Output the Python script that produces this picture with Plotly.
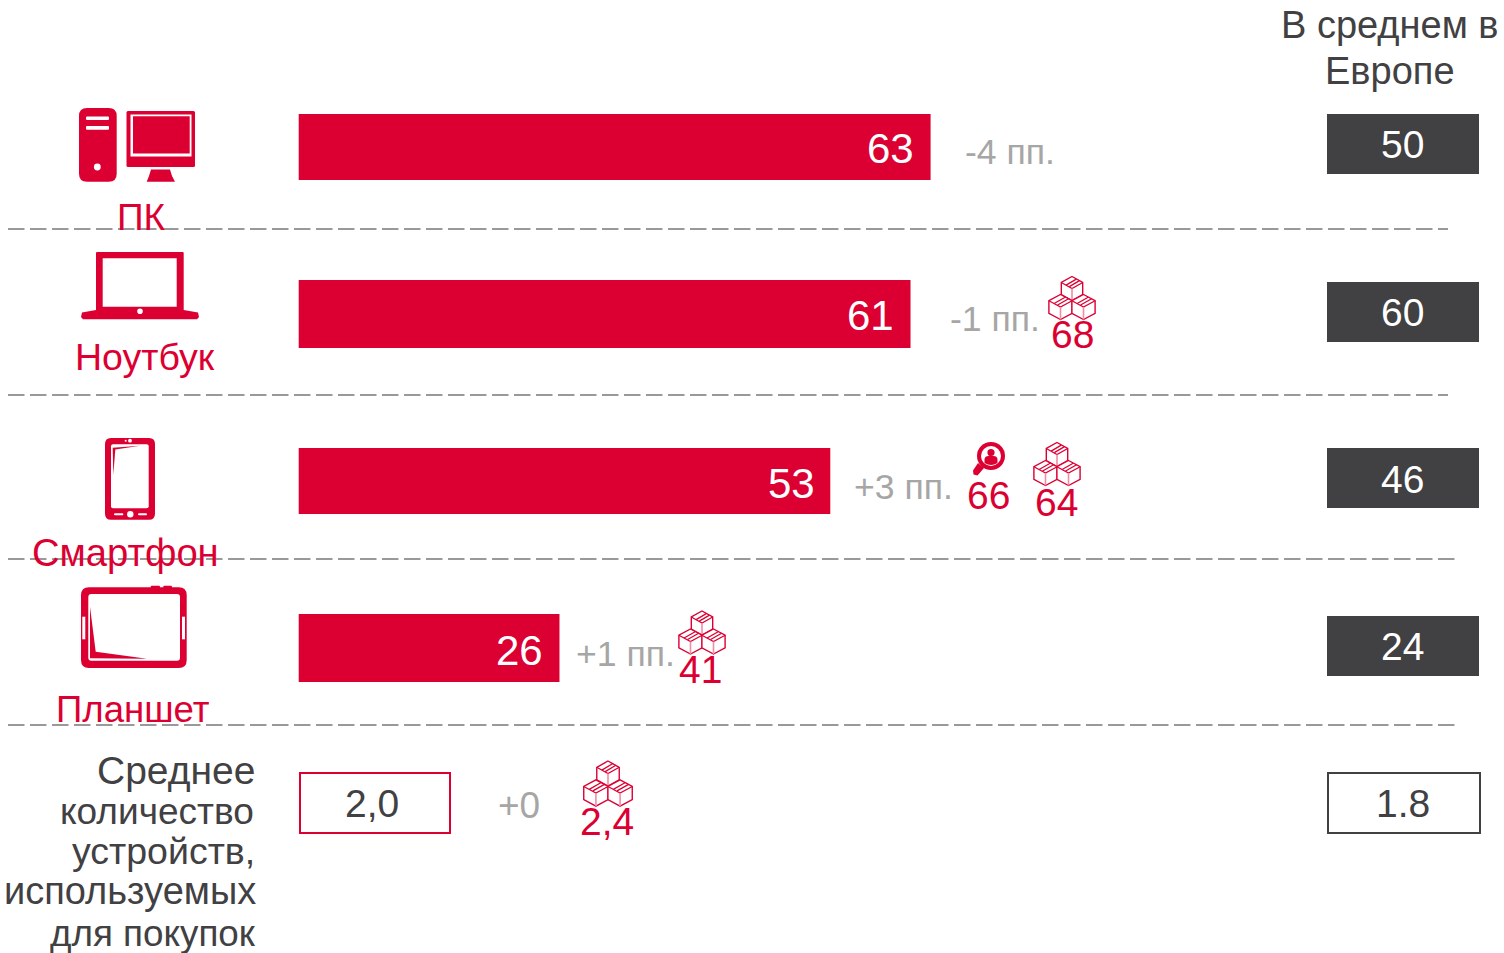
import plotly.graph_objects as go

# ---- data ----
devices = ["ПК", "Ноутбук", "Смартфон", "Планшет"]
shares = [63, 61, 53, 26]
changes = ["-4 пп.", "-1 пп.", "+3 пп.", "+1 пп."]
europe = ["50", "60", "46", "24"]
avg_devices = "2,0"
avg_change = "+0"
avg_europe = "1.8"
avg_caption = ["Среднее", "количество", "устройств,", "используемых", "для покупок"]
europe_caption = ["В среднем в", "Европе"]
box_values = ["68", "64", "41", "2,4"]
search_value = "66"

# ---- palette and geometry ----
RED = "#DC0032"
DARK = "#414042"
GREY = "#A6A6A6"
TEXT = "#414042"
FONT = "Liberation Sans, Arial, sans-serif"
W, H = 1504, 953
PX_PER_UNIT = 10.03
ZERO_PX = 298.7

bar_tops = [114, 280, 448, 614]
bar_bottoms = [180, 348, 514, 682]
euro_tops = [114, 282, 448, 616]

shapes, notes = [], []


def label(text, x, y, size=38, color=TEXT, anchor="center"):
    notes.append(dict(text=text, x=x, y=y, xref="x2", yref="y", xanchor=anchor, yanchor="middle",
                      showarrow=False, borderpad=0, font=dict(family=FONT, size=size, color=color)))


def draw(path, fill=RED, line=None, width=0):
    shapes.append(dict(type="path", path=path, xref="x2", yref="y", fillcolor=fill,
                       line=dict(color=line or "rgba(0,0,0,0)", width=width), layer="above"))


def stroke(path, color=RED, width=1.3):
    shapes.append(dict(type="path", path=path, xref="x2", yref="y", fillcolor="rgba(0,0,0,0)",
                       line=dict(color=color, width=width), layer="above"))


def rrect(x0, y0, x1, y1, r):
    return (f"M{x0 + r},{y0} L{x1 - r},{y0} Q{x1},{y0} {x1},{y0 + r} L{x1},{y1 - r} Q{x1},{y1} {x1 - r},{y1} "
            f"L{x0 + r},{y1} Q{x0},{y1} {x0},{y1 - r} L{x0},{y0 + r} Q{x0},{y0} {x0 + r},{y0} Z")


def poly(*pts):
    return "M" + " L".join(f"{x},{y}" for x, y in pts) + " Z"


def circle(cx, cy, r, fill=RED):
    shapes.append(dict(type="circle", x0=cx - r, x1=cx + r, y0=cy - r, y1=cy + r, xref="x2", yref="y",
                       fillcolor=fill, line=dict(width=0), layer="above"))


def pc_icon():
    draw(rrect(79, 108, 116.7, 181.7, 8))
    draw(rrect(86, 116.5, 109, 120, 1), "white")
    draw(rrect(86, 126, 109, 129.7, 1), "white")
    circle(97.3, 167, 3.4, "white")
    draw(rrect(126.5, 111, 195, 167, 1.5))
    draw(poly((130.5, 114.5), (191.5, 114.5), (191.5, 156.5), (130.5, 156.5)), "white")
    draw(poly((133, 116.3), (189.7, 116.3), (189.7, 153.5), (133, 153.5)))
    draw(poly((151, 169.5), (170, 169.5), (172, 176), (175, 181.7), (146.7, 181.7), (149, 176)))


def laptop_icon():
    draw(rrect(96, 252, 183.7, 312, 1))
    draw(poly((102.7, 258.3), (176.7, 258.3), (176.7, 306.7), (102.7, 306.7)), "white")
    draw(poly((96, 310), (183.7, 310), (198, 312.5), (199, 317), (197, 319.3), (83, 319.3), (81, 317), (82, 312.5)))
    circle(140, 311.3, 2.8, "white")


def phone_icon():
    draw(rrect(105, 438, 155, 519.7, 6))
    draw(rrect(111, 444.3, 148.7, 508.3, 2), "white")
    draw(poly((112.7, 447.8), (140, 445.7), (115.3, 449.5), (113.3, 475)))
    draw(rrect(114, 513.2, 123.3, 515.2, 1), "white")
    draw(rrect(138, 513.2, 147, 515.2, 1), "white")
    circle(130.3, 514.2, 3.2, "white")
    circle(130, 440.7, 1.9, "white")
    circle(125.7, 440.7, 1, "white")


def tablet_icon():
    draw(rrect(150.7, 585.7, 160, 590, 1))
    draw(rrect(163.3, 585.7, 172, 590, 1))
    draw(rrect(81, 587.3, 186.7, 668, 8))
    draw(rrect(88.3, 594, 180, 660.7, 3), "white")
    draw(poly((90, 606.7), (95.7, 651.7), (147, 658.7), (90, 658.3)))
    draw(poly((82.3, 616.7), (85.3, 616.7), (85.3, 639.3), (82.3, 639.3)), "white")
    draw(poly((182, 616.7), (185, 616.7), (185, 639.3), (182, 639.3)), "white")


def carton(cx, top, hw, h):
    """One isometric parcel: outline, inner edges and the tape strip."""
    q1, q2, q3 = top + h * .25, top + h * .5, top + h * .75
    draw(poly((cx, top), (cx + hw, q1), (cx + hw, q3), (cx, top + h), (cx - hw, q3), (cx - hw, q1)),
         "white", RED, 1.4)
    stroke(f"M{cx - hw},{q1} L{cx},{q2} L{cx + hw},{q1}")
    stroke(f"M{cx},{q2} L{cx},{top + h}", "#F08CA5", 1.6)
    stroke(f"M{cx - hw * .55},{top + h * .36} L{cx + hw * .4},{top + h * .11}")
    stroke(f"M{cx - hw * .25},{top + h * .42} L{cx + hw * .7},{top + h * .17}")


def parcels_icon(cx, top, k=1.0):
    carton(cx, top, 10.7 * k, 24 * k)
    carton(cx - 11.5 * k, top + 18 * k, 11.6 * k, 25 * k)
    carton(cx + 11.5 * k, top + 18 * k, 11.6 * k, 25 * k)


def search_icon(cx, cy):
    draw(poly((cx - 13, cy + 7), (cx - 7, cy + 12), (cx - 13.5, cy + 19.5), (cx - 17.5, cy + 18.5), (cx - 18, cy + 14.5)))
    circle(cx, cy, 14)
    circle(cx, cy, 10, "white")
    circle(cx, cy - 3.5, 3.6)
    draw(f"M{cx - 6.5},{cy + 7} L{cx - 6.5},{cy + 3} Q{cx - 6},{cy} {cx - 2.5},{cy} L{cx + 2.5},{cy} "
         f"Q{cx + 6},{cy} {cx + 6.5},{cy + 3} L{cx + 6.5},{cy + 7} Q{cx},{cy + 11} {cx - 6.5},{cy + 7} Z")


# ---- row separators ----
for y, x1 in zip([229, 395, 559, 725], [1448, 1448, 1456, 1456]):
    shapes.append(dict(type="line", x0=8, x1=x1, y0=y, y1=y, xref="x2", yref="y", layer="below",
                       line=dict(color="#999999", width=2, dash="16.5px,5.5px")))

# ---- device icons ----
pc_icon()
laptop_icon()
phone_icon()
tablet_icon()

# ---- device captions ----
for name, x, y, size in zip(devices, [141, 145, 125.5, 133], [217, 357, 552, 709], [37, 37.5, 38.2, 36.6]):
    label(name, x, y, size, RED)

# ---- figures inside the bars ----
for v, top, bottom, dy, shift in zip(shares, bar_tops, bar_bottoms, [1, 1, 2, 2], [-15.5, -16, -14, -15.5]):
    notes.append(dict(text=str(v), x=v, y=(top + bottom) / 2 + dy, xref="x", yref="y", xanchor="right",
                      yanchor="middle", xshift=shift, showarrow=False, borderpad=0,
                      font=dict(family=FONT, size=42, color="white")))

# ---- year-on-year change ----
for text, x, y in zip(changes, [1010, 995, 903, 625.5], [152, 319, 487, 654]):
    label(text, x, y, 35.6, GREY)

# ---- Europe column ----
for text, top, dy in zip(europe, euro_tops, [30, 30, 31, 30]):
    shapes.append(dict(type="rect", x0=1327, x1=1479, y0=top, y1=top + 60, xref="x2", yref="y",
                       fillcolor=DARK, line=dict(width=0), layer="below"))
    label(text, 1402.5, top + dy, 39, "white")
for line, y in zip(europe_caption, [25, 71]):
    label(line, 1389.5, y, 38)

# ---- parcel and search callouts ----
for value, cx, label_x, top, text_y, k in zip(box_values, [1072, 1057, 702, 608], [1072, 1056, 700.5, 606.5],
                                              [276.5, 442.5, 611, 761],
                                              [334, 502, 669, 821], [1, 1, 1, 1.05]):
    parcels_icon(cx, top, k)
    label(value, label_x, text_y, 39, RED)
search_icon(991, 456)
label(search_value, 988.5, 495.5, 39, RED)

# ---- bottom row: average number of devices ----
shapes.append(dict(type="rect", x0=300, x1=450, y0=773, y1=833, xref="x2", yref="y",
                   fillcolor="white", line=dict(color=RED, width=2), layer="below"))
shapes.append(dict(type="rect", x0=1328, x1=1480, y0=773, y1=833, xref="x2", yref="y",
                   fillcolor="white", line=dict(color=DARK, width=2), layer="below"))
label(avg_devices, 372, 803.5, 39)
label(avg_europe, 1402.5, 803.5, 39)
label(avg_change, 519, 805, 37, GREY)
for line, x, y, size in zip(avg_caption, [255.5, 254.5, 255.5, 257, 257], [770.5, 811, 851, 891, 933],
                            [39, 37, 37.5, 38, 36.8]):
    label(line, x, y, size, TEXT, "right")

fig = go.Figure()
fig.add_trace(go.Bar(
    x=shares, y=[(t + b) / 2 for t, b in zip(bar_tops, bar_bottoms)],
    width=[b - t for t, b in zip(bar_tops, bar_bottoms)],
    orientation="h", marker=dict(color=RED, line=dict(width=0)), hoverinfo="skip", showlegend=False,
))
# Empty trace keeps the pixel-scaled overlay axis alive for shapes and labels.
fig.add_trace(go.Scatter(x=[0], y=[0], xaxis="x2", yaxis="y", mode="markers", marker=dict(opacity=0),
                         hoverinfo="skip", showlegend=False))
fig.update_layout(
    width=W, height=H, margin=dict(l=0, r=0, t=0, b=0), autosize=False,
    paper_bgcolor="white", plot_bgcolor="white", font=dict(family=FONT),
    xaxis=dict(range=[-ZERO_PX / PX_PER_UNIT, (W - ZERO_PX) / PX_PER_UNIT], visible=False, fixedrange=True),
    xaxis2=dict(range=[0, W], overlaying="x", visible=False, fixedrange=True),
    yaxis=dict(range=[H, 0], visible=False, fixedrange=True),
    shapes=shapes, annotations=notes,
)
fig.write_html("out.html", config=dict(displayModeBar=False))
